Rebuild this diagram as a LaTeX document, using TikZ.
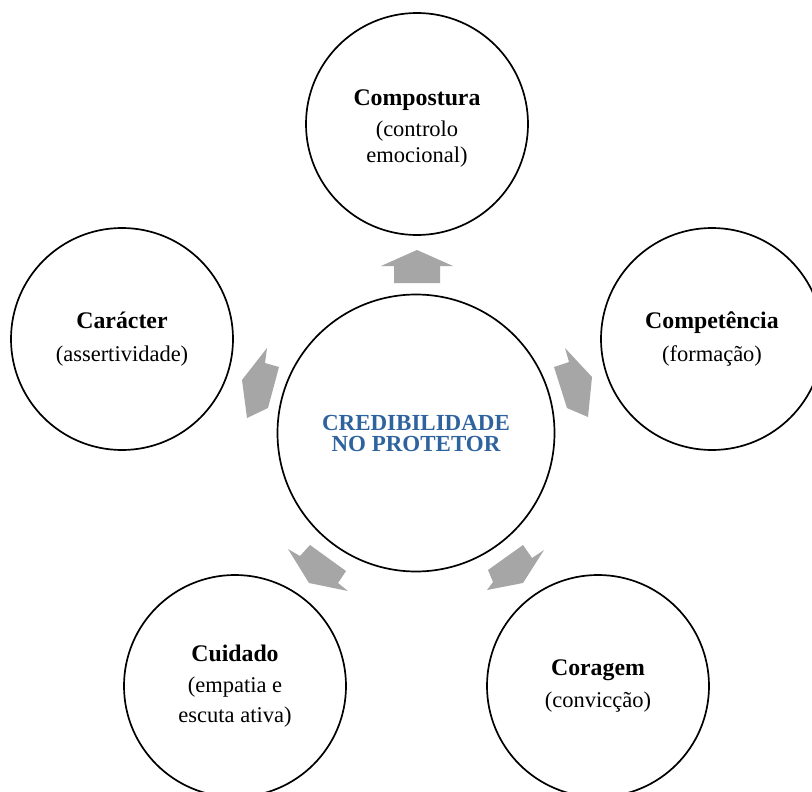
\documentclass[tikz,border=0pt]{standalone}
\usepackage{fontspec}
\setmainfont{Liberation Serif}
\definecolor{arrowgray}{RGB}{166,166,166}
\definecolor{credblue}{RGB}{46,99,158}
\newcommand{\ttl}[1]{{\fontsize{23.8}{27}\selectfont\bfseries #1}}
\begin{document}
\begin{tikzpicture}[x=1pt,y=-1pt,
  outer/.style={circle, draw=black, line width=1.7pt, minimum size=222pt, inner sep=0pt, align=center, font=\fontsize{22.5}{26}\selectfont},
  hub/.style={circle, draw=black, line width=1.7pt, minimum size=277pt, inner sep=0pt, align=center, text=credblue, font=\fontsize{23}{21}\selectfont\bfseries},
  blockarrow/.style={fill=arrowgray, draw=none}]
\useasboundingbox (0,0) rectangle (812,792);
\clip (0,0) rectangle (812,792);
\fill[white] (0,0) rectangle (812,792);

\node[hub] (c) at (416,433) {CREDIBILIDADE\\NO PROTETOR};
\node[outer] (top) at (417,124) {\rule{0pt}{25pt}\ttl{Compostura}\\[5pt](controlo\\emocional)};
\node[outer] (left) at (122,339) {\ttl{Carácter}\\[7pt](assertividade)};
\node[outer] (right) at (712,339) {\ttl{Competência}\\[7pt](formação)};
\node[outer] (bl) at (235,686) {\ttl{Cuidado}\\[5pt](empatia e\\[4pt]escuta ativa)};
\node[outer] (br) at (598,686) {\ttl{Coragem}\\[6pt](convicção)};

% block arrows
\fill[blockarrow] (417,250) -- (453,266) -- (440,266) -- (440,283) -- (394,283) -- (394,266) -- (381,266) -- cycle;
\fill[blockarrow] (267,348) -- (265,363) -- (279,367) -- (268,408) -- (247,418) -- (242,380) -- cycle;
\fill[blockarrow] (565,348) -- (569,362) -- (554,367) -- (567,408) -- (588,417) -- (592,377) -- cycle;
\fill[blockarrow] (288,549) -- (300,556) -- (310,545) -- (346,571) -- (338,583) -- (348,591) -- (309,583) -- cycle;
\fill[blockarrow] (544,550) -- (532,558) -- (523,545) -- (488,570) -- (493,582) -- (487,590) -- (523,583) -- cycle;
\end{tikzpicture}
\end{document}
